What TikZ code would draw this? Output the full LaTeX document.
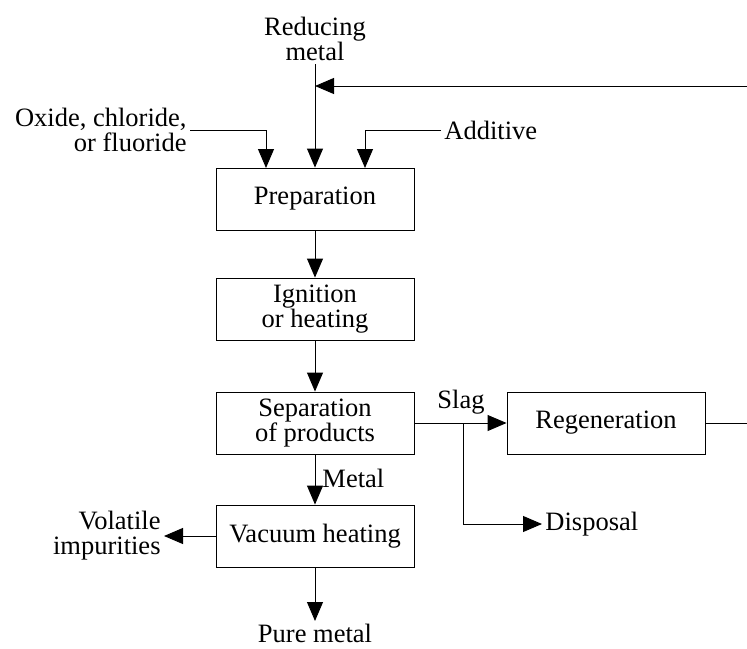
\documentclass[tikz,border=0pt]{standalone}
\usepackage{fontspec}
\setmainfont{Liberation Serif}
\usetikzlibrary{arrows.meta}
\begin{document}
\begin{tikzpicture}[x=1pt,y=-1pt,
  line width=0.9pt,
  every node/.style={font=\fontsize{26.5}{25}\selectfont},
  stage/.style={draw, minimum width=198pt, minimum height=62pt, align=center, inner sep=0pt},
  label/.style={align=center, inner sep=3pt},
  flow/.style={-{Triangle[length=19pt,width=16pt]}}]
\useasboundingbox (0,0) rectangle (747,648);
\clip (0,0) rectangle (747,648);

% process stages
\node[stage] (prep)  at (315,199) {Preparation};
\node[stage] (ign)   at (315,309) {Ignition\\or heating};
\node[stage] (sep)   at (315,423) {Separation\\of products};
\node[stage] (vac)   at (315,536) {Vacuum heating};
\node[stage] (regen) at (606,423) {Regeneration};

% feed and product labels
\node[label] (reduc) at (315,39) {Reducing\\metal};
\node[label, align=right, anchor=east] (oxide) at (190,130) {Oxide, chloride,\\or fluoride};
\node[label, anchor=west] (addit) at (441,130) {Additive};
\node[label] (slag) at (461,402) {Slag};
\node[label, anchor=west] (metal) at (319,478) {Metal};
\node[label, anchor=west] (disp) at (542,524) {Disposal};
\node[label, align=right, anchor=east] (volat) at (164,536) {Volatile\\impurities};
\node[label, anchor=north] (pure) at (315,621) {Pure metal};

% connection points
\coordinate (pin1) at (266,168);
\coordinate (pin3) at (365,168);
\coordinate (join) at (315,86);
\coordinate (br)   at (463,423);
\coordinate (edge) at (752,423);

% inputs to preparation
\draw[flow] (reduc.south) -- (prep.north);
\draw[flow] (oxide.east) -| (pin1);
\draw[flow] (addit.west) -| (pin3);

% main line
\draw[flow] (prep) -- (ign);
\draw[flow] (ign) -- (sep);
\draw[flow] (sep) -- (vac);
\draw[flow] (vac.south) -- (pure.north);
\draw[flow] (vac.west) -- (volat.east);

% slag handling
\draw[flow] (sep.east) -- (regen.west);
\draw[flow] (br) |- (disp.west);

% regenerated metal returned
\draw[flow] (regen.east) -- (edge) |- (join);
\end{tikzpicture}
\end{document}
